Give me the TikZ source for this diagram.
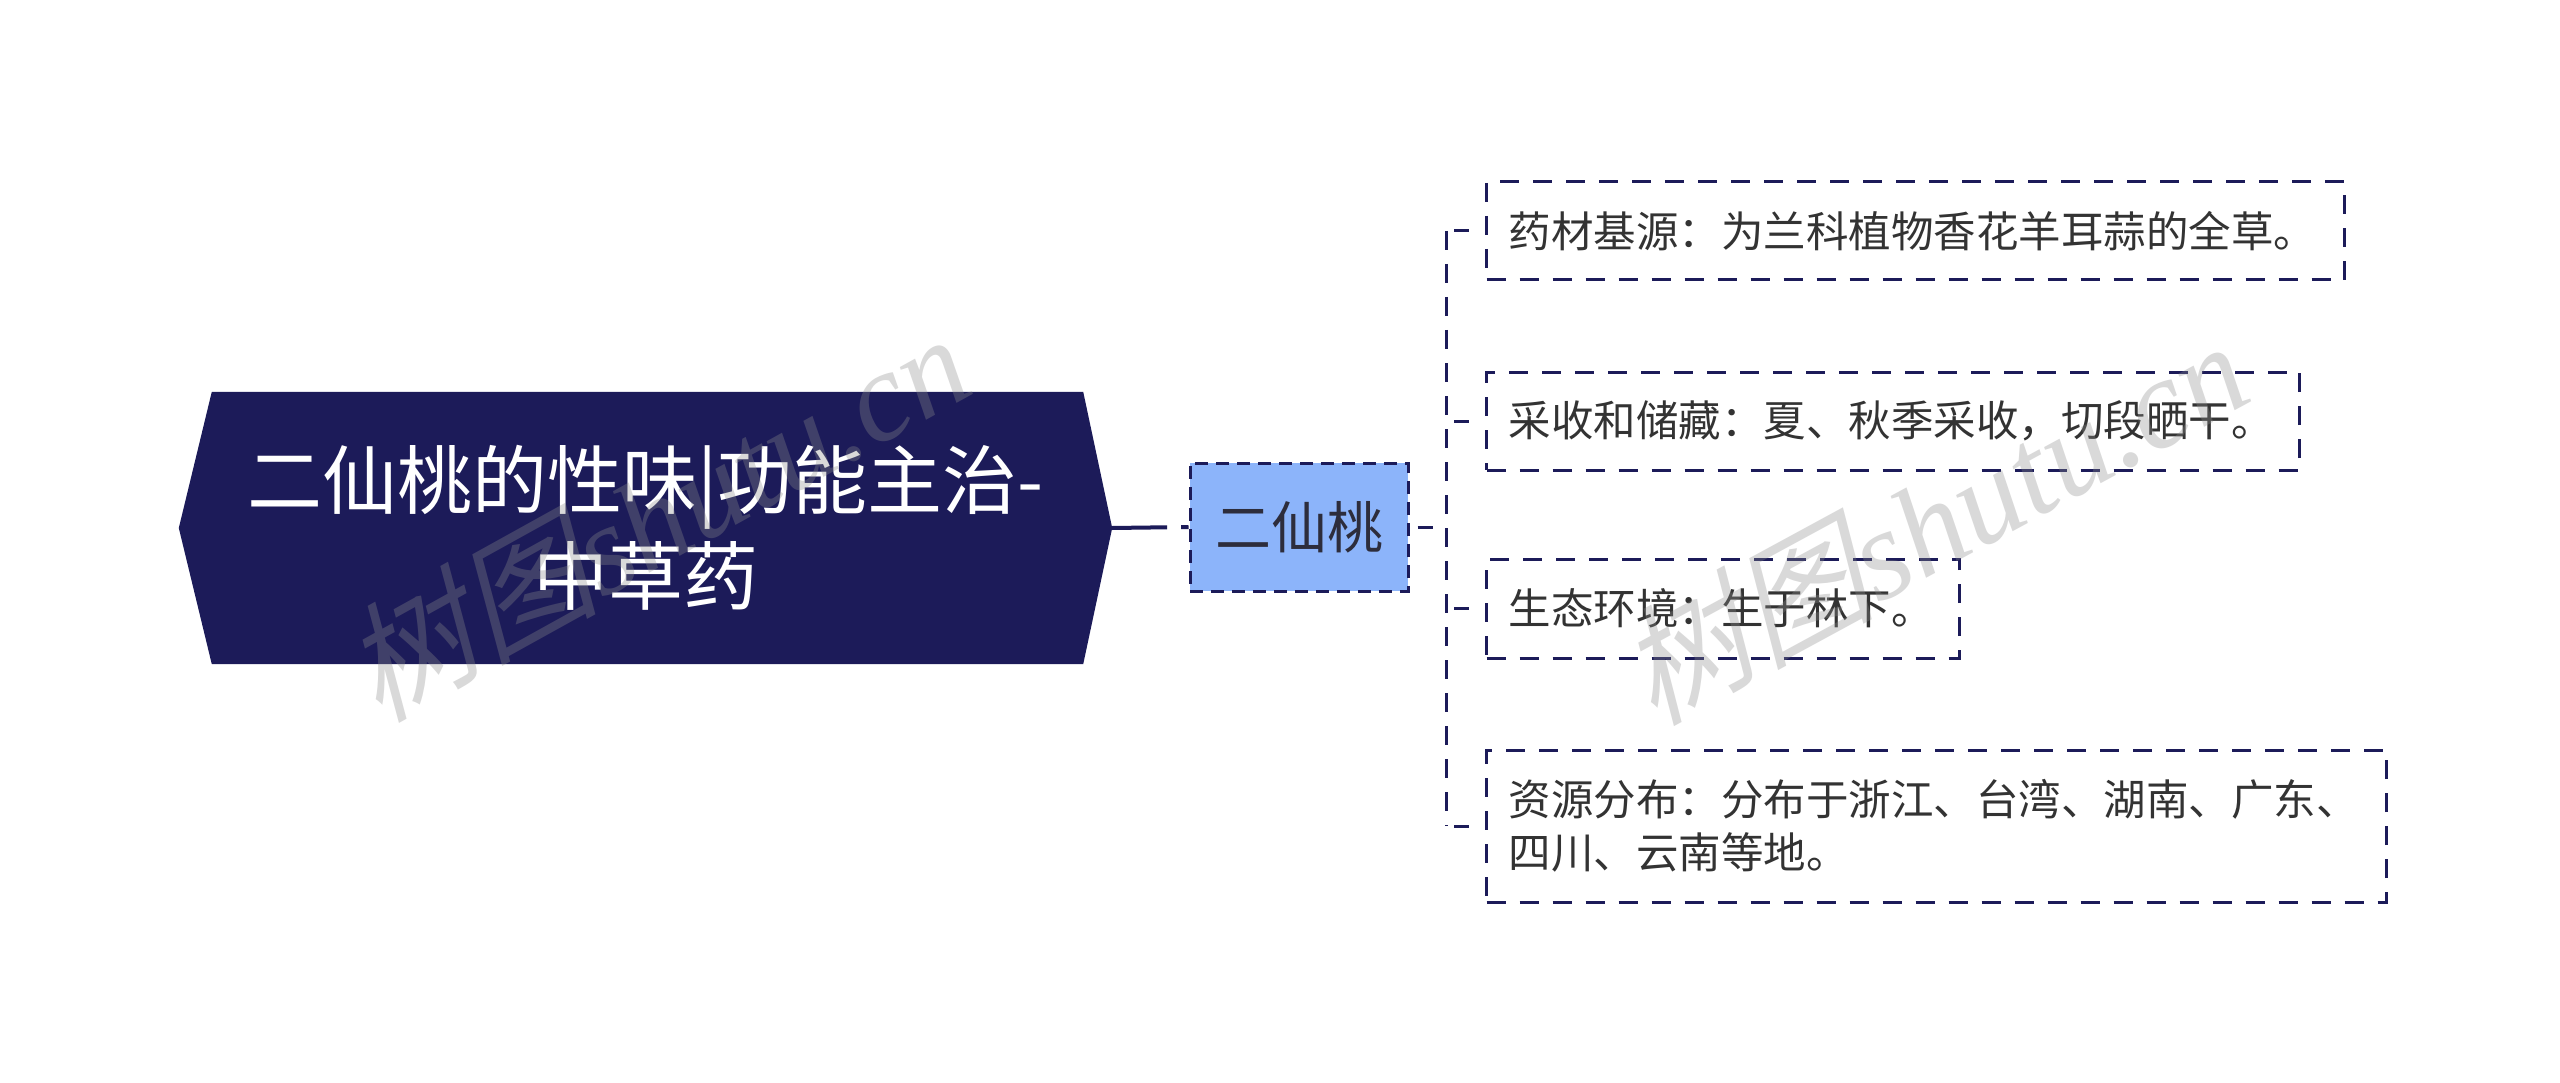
\documentclass[tikz,border=0pt]{standalone}
\usepackage{fontspec}
\newfontfamily\cjk{Noto Sans CJK SC}
\newfontfamily\cjkslant[FakeSlant=0.25]{Noto Sans CJK SC}
\newfontfamily\wmlatin{Liberation Serif}
\usetikzlibrary{calc,backgrounds}
\definecolor{navy}{RGB}{28,27,89}
\definecolor{childblue}{RGB}{140,180,250}
\definecolor{leaftext}{RGB}{51,51,51}
\definecolor{childtext}{RGB}{45,45,60}
\tikzset{
  rootbox/.style={minimum width=933pt, minimum height=272pt, inner sep=0pt, text=white,
    align=center, font=\cjk\fontsize{75}{96}\selectfont},
  childbox/.style={draw=navy, fill=childblue, line width=3pt, dash pattern=on 13pt off 8pt,
    minimum width=218pt, minimum height=128pt, inner sep=0pt, text=childtext,
    font=\cjk\fontsize{56}{70}\selectfont},
  leafbox/.style={draw=navy, line width=3pt, dash pattern=on 19pt off 14pt, anchor=west,
    inner xsep=22pt, inner ysep=0pt, align=left, text=leaftext,
    font=\cjk\fontsize{42.5}{53}\selectfont},
  busline/.style={draw=navy, line width=3pt, dash pattern=on 19pt off 14pt},
  stubline/.style={draw=navy, line width=3pt, dash pattern=on 15pt off 25pt, dash phase=32pt},
  rootlink/.style={draw=navy, line width=4pt, dash pattern=on 55pt off 14pt on 12pt off 20pt},
  watermark/.style={text=black!45, opacity=0.33}
}
\begin{document}
\begin{tikzpicture}[x=1pt,y=-1pt]
\useasboundingbox (0,0) rectangle (2560,1083);
\begin{scope}[on background layer]
\fill[white] (0,0) rectangle (2560,1083);
\end{scope}

\node[rootbox] (root) at (645.5,528) {二仙桃的性味|功能主治-\\中草药};
\begin{scope}[on background layer]
\fill[navy] (root.west) -- ($(root.north west)+(33,0)$) -- ($(root.north east)+(-29,0)$)
  -- (root.east) -- ($(root.south east)+(-29,0)$) -- ($(root.south west)+(33,0)$) -- cycle;
\end{scope}

\node[childbox] (child) at (1299,527) {二仙桃};

\node[leafbox, minimum height=98pt, text width=814pt] (l1) at (1485,231) {药材基源：为兰科植物香花羊耳蒜的全草。};
\node[leafbox, minimum height=98pt, text width=769pt] (l2) at (1485,421) {采收和储藏：夏、秋季采收，切段晒干。};
\node[leafbox, minimum height=99pt, text width=429pt] (l3) at (1485,608.5) {生态环境：生于林下。};
\node[leafbox, minimum height=152pt, text width=856pt] (l4) at (1485,826) {资源分布：分布于浙江、台湾、湖南、广东、\\四川、云南等地。};

\coordinate (bx) at (1446,527);
\draw[rootlink] (root.east) -- (child.west);
\draw[stubline] (child.east) -- (bx);
\draw[busline] (l1.west -| bx) -- (l4.west -| bx);
\draw[stubline] (l1.west -| bx) -- (l1.west);
\draw[stubline] (l2.west -| bx) -- (l2.west);
\draw[stubline] (l3.west -| bx) -- (l3.west);
\draw[stubline] (l4.west -| bx) -- (l4.west);

\node[watermark, rotate=29] (wm1) at (655,515) {\cjkslant\fontsize{128}{128}\selectfont 树图\wmlatin\itshape shutu.cn};
\node[watermark, rotate=28.5] (wm2) at (1932,520) {\cjkslant\fontsize{128}{128}\selectfont 树图\wmlatin\itshape shutu.cn};
\end{tikzpicture}
\end{document}
